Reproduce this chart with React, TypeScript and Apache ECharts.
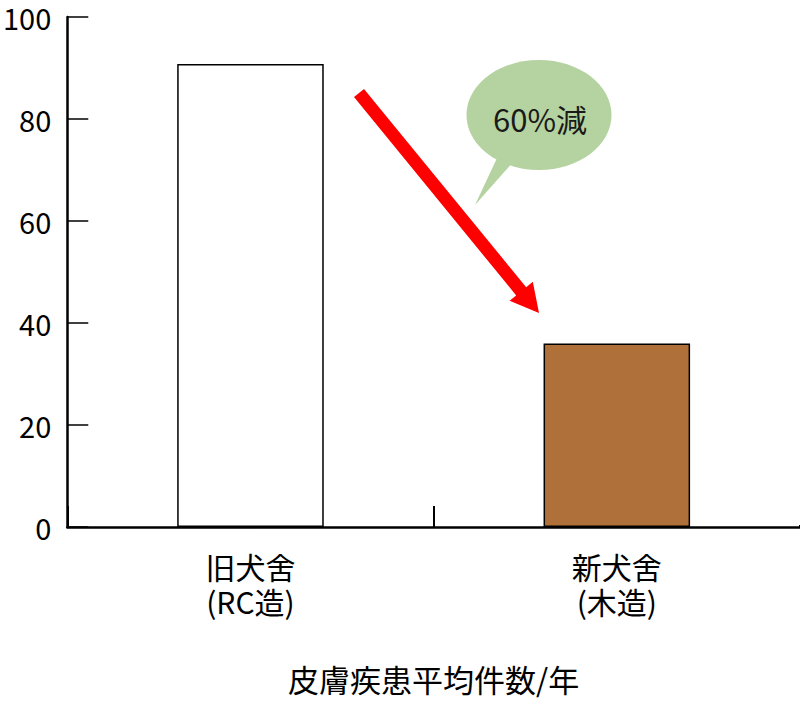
import React, { useEffect, useRef } from "react";
import * as echarts from "echarts";

const categories = ["旧犬舍\n(RC造)", "新犬舍\n(木造)"];
const values = [90.8, 36];
const barColors = ["#ffffff", "#b0703a"];
const axisName = "皮膚疾患平均件数/年";
const bubbleText = "60%減";

const FONT = "'Noto Sans CJK JP', 'Noto Sans', sans-serif";

export default function App() {
  const ref = useRef<HTMLDivElement>(null);
  useEffect(() => {
    if (!ref.current) return;
    const chart = echarts.init(ref.current, undefined, { renderer: "svg" });
    chart.setOption({
      animation: false,
      backgroundColor: "#ffffff",
      grid: { left: 66, right: 0, top: 17, bottom: 198, containLabel: false },
      xAxis: {
        type: "category",
        data: categories,
        boundaryGap: true,
        axisLine: { show: true, lineStyle: { color: "#000", width: 2.5 } },
        axisTick: { show: true, inside: true, length: 21, lineStyle: { color: "#000", width: 2 } },
        axisLabel: {
          color: "#000",
          fontSize: 30,
          fontFamily: FONT,
          lineHeight: 35,
          margin: 21,
        },
        name: axisName,
        nameLocation: "middle",
        nameGap: 136,
        nameTextStyle: { color: "#000", fontSize: 31, fontFamily: FONT },
      },
      yAxis: {
        type: "value",
        min: 0,
        max: 100,
        interval: 20,
        axisLine: { show: true, lineStyle: { color: "#000", width: 2.5 } },
        axisTick: { show: true, inside: true, length: 21, lineStyle: { color: "#000", width: 1.5 } },
        axisLabel: { color: "#000", fontSize: 29, fontFamily: FONT, margin: 16 },
        splitLine: { show: false },
      },
      series: [
        {
          type: "bar",
          barWidth: "40%",
          data: values.map((v, i) => ({
            value: v,
            itemStyle: { color: barColors[i], borderColor: "#000", borderWidth: 1.5 },
          })),
        },
      ],
      graphic: [
        {
          type: "rect",
          shape: { x: 794, y: 500, width: 8, height: 25 },
          style: { fill: "#ffffff" },
          z: 100,
        },
        {
          type: "polygon",
          shape: {
            points: [
              [364, 88.9],
              [526.2, 287.2],
              [532.8, 281.8],
              [539, 313],
              [509.6, 300.8],
              [516.2, 295.4],
              [354, 97.1],
            ],
          },
          style: { fill: "#ff0000" },
        },
        {
          type: "ellipse",
          shape: { cx: 539, cy: 115, rx: 72.5, ry: 55 },
          style: { fill: "#b5d3a0" },
        },
        {
          type: "polygon",
          shape: { points: [[498, 156], [513, 162], [475, 205]] },
          style: { fill: "#b5d3a0" },
        },
        {
          type: "text",
          x: 540,
          y: 118,
          style: {
            text: bubbleText,
            fill: "#1a1a1a",
            fontSize: 31,
            fontFamily: FONT,
            align: "center",
            verticalAlign: "middle",
          },
        },
      ],
    });
    return () => chart.dispose();
  }, []);
  return (
    <div
      ref={ref}
      style={{ position: "absolute", left: 0, top: 0, width: 800, height: 725 }}
    />
  );
}
